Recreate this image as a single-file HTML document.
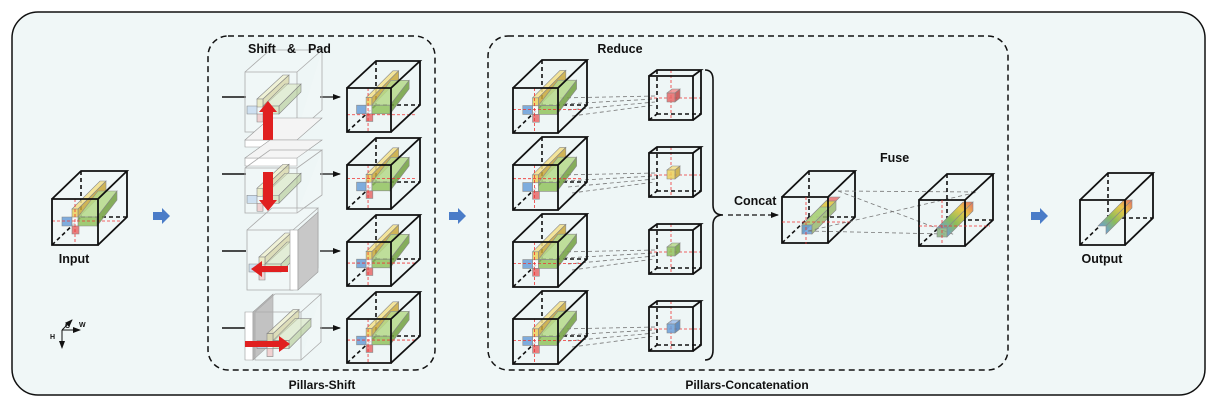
<!DOCTYPE html>
<html><head><meta charset="utf-8"><style>
html,body{margin:0;padding:0;background:#fff;}
svg{display:block;}
text{font-family:"Liberation Sans",sans-serif;font-weight:bold;fill:#111;}
</style></head><body>
<svg id="s" width="1217" height="408" viewBox="0 0 1217 408" xmlns="http://www.w3.org/2000/svg">
<defs>
<marker id="ah" markerWidth="8" markerHeight="8" refX="7" refY="4" orient="auto" markerUnits="userSpaceOnUse"><path d="M0,1 L8,4 L0,7 z" fill="#111"/></marker>
<linearGradient id="fg" x1="0" y1="1" x2="1" y2="0"><stop offset="0" stop-color="#6a9fd8"/><stop offset="0.35" stop-color="#8cbc5a"/><stop offset="0.7" stop-color="#e8c84a"/><stop offset="1" stop-color="#e87060"/></linearGradient>
</defs>
<rect x="12" y="12" width="1193" height="383" rx="26" fill="#f0f7f7" stroke="#111" stroke-width="1.5"/>
<rect x="208" y="36" width="227" height="334" rx="20" fill="#eef6f6" stroke="#111" stroke-width="1.5" stroke-dasharray="6,4"/>
<rect x="488" y="36" width="520" height="334" rx="20" fill="#eef6f6" stroke="#111" stroke-width="1.5" stroke-dasharray="6,4"/>
<g id="g"></g>
<text x="248" y="53" font-size="12.5">Shift</text>
<text x="287" y="53" font-size="12.5">&amp;</text>
<text x="308" y="53" font-size="12.5">Pad</text>
<text x="322" y="389" font-size="12" text-anchor="middle">Pillars-Shift</text>
<text x="620" y="53" font-size="12.5" text-anchor="middle">Reduce</text>
<text x="747" y="389" font-size="12" text-anchor="middle">Pillars-Concatenation</text>
<text x="734" y="205" font-size="12.5">Concat</text>
<text x="880" y="162" font-size="12.5">Fuse</text>
<text x="74" y="263" font-size="12.5" text-anchor="middle">Input</text>
<text x="1102" y="263" font-size="12.5" text-anchor="middle">Output</text>
<text x="65" y="328" font-size="7">C</text>
<text x="79" y="327" font-size="7">W</text>
<text x="50" y="339" font-size="7">H</text>
</svg>
<script>
var g=document.getElementById('g'),NS='http://www.w3.org/2000/svg';
function el(t,a){var e=document.createElementNS(NS,t);for(var k in a)e.setAttribute(k,a[k]);g.appendChild(e);return e;}
function line(x1,y1,x2,y2,c,w,d,m){var a={x1:x1,y1:y1,x2:x2,y2:y2,stroke:c||'#111','stroke-width':w||1.5};if(d)a['stroke-dasharray']=d;if(m)a['marker-end']='url(#ah)';return el('line',a);}
function poly(p,f,s,op){return el('polygon',{points:p.join(' '),fill:f,stroke:s||'#888','stroke-width':0.6,'fill-opacity':op||0.85});}
function prism(x,y,w,h,ex,ey,c,c2,c3,op){
 poly([x,y,x+ex,y+ey,x+w+ex,y+ey,x+w,y],c2,null,op);
 poly([x+w,y,x+w+ex,y+ey,x+w+ex,y+h+ey,x+w,y+h],c3,null,op);
 poly([x,y,x+w,y,x+w,y+h,x,y+h],c,null,op);}
var Y=['#ecd05a','#f3e08a','#c9a83a'],G=['#92c35e','#b5d98a','#72a040'],B='#6a9fd8',R='#e86868';
function cubeBack(x,y,s,dx,dy){
 line(x+dx,y+dy,x+dx,y+dy+s,'#111',1.6,'4,3');
 line(x+dx,y+dy+s,x+dx+s,y+dy+s,'#111',1.6,'4,3');
 line(x,y+s,x+dx,y+dy+s,'#111',1.6,'4,3');}
function cubeFront(x,y,s,dx,dy){
 el('path',{d:'M'+x+','+y+' h'+s+' v'+s+' h-'+s+'z M'+x+','+y+' l'+dx+','+dy+' h'+s+' l-'+dx+','+(-dy)+' M'+(x+s+dx)+','+(y+dy)+' v'+s+' l-'+dx+','+(-dy),fill:'none',stroke:'#111','stroke-width':1.8});}
function bars(x,y,s,cross){
 var k=s/46;
 prism(x+20*k,y+10*k,6*k,9*k,28*k,-28*k,Y[0],Y[1],Y[2]);
 prism(x+26*k,y+18*k,19*k,9*k,20*k,-26*k,G[0],G[1],G[2]);
 poly([x+10*k,y+18*k,x+20*k,y+18*k,x+20*k,y+27*k,x+10*k,y+27*k],B);
 poly([x+20*k,y+18*k,x+26*k,y+18*k,x+26*k,y+27*k,x+20*k,y+27*k],'#fafafa');
 poly([x+20*k,y+27*k,x+27*k,y+27*k,x+27*k,y+35*k,x+20*k,y+35*k],R);
 if(cross){line(x,y+cross[1]*k,x+s+25*k,y+cross[1]*k,'#e33',0.8,'3,2');line(x+cross[0]*k,y,x+cross[0]*k,y+s,'#e33',0.8,'3,2');}}
function cube(x,y,s,dx,dy,cross){cubeBack(x,y,s,dx,dy);bars(x,y,s,cross);cubeFront(x,y,s,dx,dy);}
cube(52,199,46,29,-28,[23,22]);
line(62,330,62,348,'#111',1,null,true);line(62,330,80,330,'#111',1,null,true);line(62,330,72,320,'#111',1,null,true);
function barrow(x,y){el('path',{d:'M'+x+','+(y-4)+' h9 v-4 l8,8 l-8,8 v-4 h-9z',fill:'#4a7cc8'});}
barrow(153,216);barrow(449,216);barrow(1031,216);
var rows=[88,165,242,319];
rows.forEach(function(ry,i){
 line(222,ry+9,246,ry+9,'#111',1.5);
 line(320,ry+9,340,ry+9,'#111',1.2,null,true);
 cube(347,ry,44,29,-27,[22,i==0?28:(i==1?14:22)]);
});
function ghost(x,y,w,h,dx,dy){el('path',{d:'M'+x+','+y+' h'+w+' v'+h+' h-'+w+'z M'+x+','+y+' l'+dx+','+dy+' h'+w+' l-'+dx+','+(-dy)+' M'+(x+w+dx)+','+(y+dy)+' v'+h+' l-'+dx+','+(-dy),fill:'#fff','fill-opacity':0.15,stroke:'#aaa','stroke-width':0.8});
 prism(x+12,y+h*0.45,6,8,26,-24,'#e6e2a8','#efecc0','#d0cc90',0.6);prism(x+18,y+h*0.45+7,16,8,22,-22,'#c8dca8','#d8e6c0','#b0c890',0.6);
 poly([x+2,y+h*0.45+7,x+12,y+h*0.45+7,x+12,y+h*0.45+15,x+2,y+h*0.45+15],'#b8d0ec',null,0.6);
 poly([x+12,y+h*0.45+15,x+18,y+h*0.45+15,x+18,y+h*0.45+23,x+12,y+h*0.45+23],'#f0b8b8',null,0.6);}
ghost(245,72,52,60,25,-22);
poly([245,140,297,140,297,147,245,147],'#fff','#999',1);poly([245,140,270,118,322,118,297,140],'#f4f4f4','#999',1);
el('path',{d:'M263,140 v-28 h-4 l9,-11 l9,11 h-4 v28z',fill:'#e02020'});
poly([245,158,297,158,297,166,245,166],'#fff','#999',1);poly([245,158,270,140,322,140,297,158],'#f4f4f4','#999',1);
ghost(245,168,52,45,25,-18);
el('path',{d:'M263,172 v28 h-4 l9,11 l9,-11 h-4 v-28z',fill:'#e02020'});
ghost(247,230,46,60,25,-22);
poly([290,230,298,230,298,290,290,290],'#fff','#999',1);poly([298,230,318,212,318,272,298,290],'#c8c8c8','#999',1);
el('path',{d:'M288,266 h-26 v-5 l-11,8 l11,8 v-5 h26z',fill:'#e02020'});
poly([245,312,253,312,253,360,245,360],'#fff','#999',1);poly([253,312,273,294,273,342,253,360],'#b8b8b8','#999',1);
ghost(255,312,46,48,20,-18);
el('path',{d:'M245,341 h34 v-5 l11,8 l-11,8 v-5 h-34z',fill:'#e02020'});
rows.forEach(function(ry,i){
 var sy=ry-12;
 for(var j=0;j<4;j++)line(560+j*4,ry+10+j*6,655,sy+20+j*3,'#777',0.8,'4,3');
 cube(513,ry,45,29,-28,[22,i==1?14:22]);
 cubeBack(649,sy,44,8,-6);
 line(649,sy+22,701,sy+22,'#e33',0.8,'3,2');line(671,sy-6,671,sy+44,'#e33',0.8,'3,2');
 var cc=[[R,'#f09090','#c04848'],[Y[0],Y[1],Y[2]],[G[0],G[1],G[2]],[B,'#9cc0ec','#4a7cb8']][i];
 prism(667,sy+17,8,9,5,-4,cc[0],cc[1],cc[2]);
 cubeFront(649,sy,44,8,-6);
});
el('path',{d:'M705,70 q8,0 8,10 v125 q0,10 10,10 q-10,0 -10,10 v125 q0,10 -8,10',fill:'none',stroke:'#111','stroke-width':1.6});
line(728,215,778,215,'#111',1.3,'5,3',true);
cubeBack(782,197,46,27,-26);
poly([802,225,826,201,826,210,802,234],G[2]);
poly([802,225,826,201,836,201,812,225],G[1]);
poly([820,207,826,201,836,201,830,207],'#e8c84a');
poly([826,201,830,197,840,197,836,201],'#e87070');
poly([802,225,812,225,812,234,802,234],B);
poly([812,225,836,201,836,210,812,234],'#9ab870');
cubeFront(782,197,46,27,-26);
line(782,222,850,222,'#e33',0.8,'3,2');line(806,197,806,244,'#e33',0.8,'3,2');
line(838,191,955,235,'#777',0.8,'4,3');line(838,191,978,192,'#777',0.8,'4,3');line(808,231,978,192,'#777',0.8,'4,3');line(808,231,945,234,'#777',0.8,'4,3');
cubeBack(919,200,46,28,-26);
el('polygon',{points:'937,228 963,202 973,202 947,228',fill:'url(#fg)',stroke:'#888','stroke-width':0.6});
el('polygon',{points:'947,228 973,202 973,211 947,237',fill:'url(#fg)',stroke:'#888','stroke-width':0.6});
poly([937,228,947,228,947,237,937,237],'#8ab080');
cubeFront(919,200,46,28,-26);
line(919,226,990,226,'#e33',0.8,'3,2');line(942,200,942,244,'#e33',0.8,'3,2');
cubeBack(1080,200,45,28,-27);
el('polygon',{points:'1098,226 1124,200 1132,200 1106,226',fill:'url(#fg)',stroke:'#888','stroke-width':0.6});
el('polygon',{points:'1106,226 1132,200 1132,208 1106,234',fill:'url(#fg)',stroke:'#888','stroke-width':0.6});
cubeFront(1080,200,45,28,-27);
</script>
</body></html>
